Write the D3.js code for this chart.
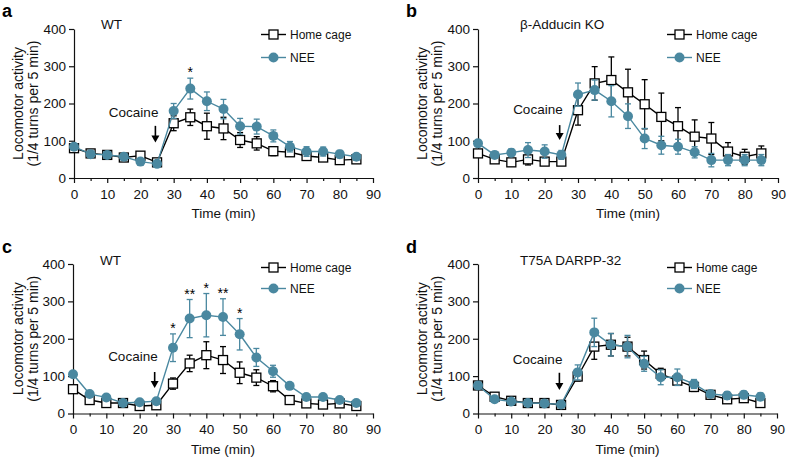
<!DOCTYPE html>
<html><head><meta charset="utf-8">
<script src="https://cdn.jsdelivr.net/npm/d3@7"></script>
<style>
body{margin:0;background:#fff;}
svg{font-family:"Liberation Sans",Arial,Helvetica,sans-serif;}
</style></head>
<body><svg id="c" width="788" height="458"></svg>
<script>
const times = [0,5,10,15,20,25,30,35,40,45,50,55,60,65,70,75,80,85];
const xTicks = [0,10,20,30,40,50,60,70,80,90];
const xMinor = [5,15,25,35,45,55,65,75,85];
const yTicks = [0,100,200,300,400];
const seriesNames = ["Home cage","NEE"];
const panelLetters = ["a","b","c","d"];
const panelTitles = ["WT","β-Adducin KO","WT","T75A DARPP-32"];

const homeA    = [80,66,62,55,60,42,147,163,139,133,102,93,72,69,59,55,48,50];
const homeAErr = [6,6,6,6,6,5,20,22,35,30,20,18,12,10,8,8,6,6];
const neeA     = [84,64,62,57,44,38,180,240,206,185,139,138,113,84,71,71,64,57];
const neeAErr  = [5,5,5,5,5,5,20,28,25,26,21,20,16,14,13,12,10,8];
const starsA   = ["","","","","","","","*","","","","","","","","","",""];

const homeB    = [66,50,42,50,44,44,182,254,263,230,198,164,139,111,106,71,57,66];
const homeBErr = [10,8,10,15,10,10,40,45,62,62,66,64,50,45,43,24,20,20];
const neeB     = [93,62,68,75,71,62,224,236,206,166,106,88,84,69,48,48,48,48];
const neeBErr  = [8,6,10,20,18,12,31,27,42,33,27,24,20,15,18,15,15,15];
const starsB   = times.map(() => "");

const homeC    = [65,36,28,28,20,22,80,134,156,143,109,96,73,36,27,24,27,20];
const homeCErr = [5,5,5,5,5,5,15,22,36,36,29,21,15,5,5,5,5,5];
const neeC     = [105,52,43,28,30,33,176,254,263,258,212,150,113,74,44,44,36,28];
const neeCErr  = [5,5,5,5,5,5,37,51,58,49,42,24,16,8,6,5,5,5];
const starsC   = ["","","","","","","*","**","*","**","*","","","","","","",""];

const homeD    = [75,45,34,28,28,23,99,179,184,179,143,106,88,71,50,38,41,28];
const homeDErr = [5,5,5,5,5,5,12,34,30,25,24,15,12,12,6,6,6,5];
const neeD     = [75,38,32,28,27,24,110,217,184,179,133,97,97,79,52,48,50,45];
const neeDErr  = [5,5,5,5,5,5,20,38,30,30,20,20,22,12,8,10,10,10];
const starsD   = times.map(() => "");

const cocaineArrow = [[140,95],[142,102],[111,68],[109,63]]; // arrow top/bottom values per panel
const cocaineText = [177,185,152,145];

const panelData = [
  {home:homeA, homeErr:homeAErr, nee:neeA, neeErr:neeAErr, stars:starsA},
  {home:homeB, homeErr:homeBErr, nee:neeB, neeErr:neeBErr, stars:starsB},
  {home:homeC, homeErr:homeCErr, nee:neeC, neeErr:neeCErr, stars:starsC},
  {home:homeD, homeErr:homeDErr, nee:neeD, neeErr:neeDErr, stars:starsD}
];

const layout = [
  {x0:74, x1:373, y0:178, y1:29, ox:0, oy:0},
  {x0:478, x1:778, y0:178, y1:29, ox:404, oy:0},
  {x0:73, x1:373, y0:413.5, y1:264, ox:0, oy:236},
  {x0:478, x1:777, y0:413.5, y1:264, ox:404, oy:236}
];

const TEAL = "#4a88a0";
const svg = d3.select("#c");

panelData.forEach((pd, i) => {
  const L = layout[i];
  const x = d3.scaleLinear().domain([0,90]).range([L.x0, L.x1]);
  const y = d3.scaleLinear().domain([0,400]).range([L.y0, L.y1]);
  const g = svg.append("g");

  // axes
  g.append("g").attr("transform",`translate(0,${L.y0})`)
    .call(d3.axisBottom(x).tickValues(xTicks).tickSize(5).tickSizeOuter(0).tickPadding(6));
  g.append("g").attr("transform",`translate(0,${L.y0})`)
    .call(d3.axisBottom(x).tickValues(xMinor).tickSize(3).tickSizeOuter(0).tickFormat(""))
    .select(".domain").remove();
  g.append("g").attr("transform",`translate(${L.x0},0)`)
    .call(d3.axisLeft(y).tickValues(yTicks).tickSize(5).tickSizeOuter(0).tickPadding(3));
  g.selectAll(".tick text").attr("font-size",13.5).attr("fill","#111")
    .attr("font-family","Liberation Sans, Arial, sans-serif");
  g.selectAll(".domain, .tick line").attr("stroke","#111").attr("stroke-width",1.2);

  // axis titles
  g.append("text").attr("x",(L.x0+L.x1)/2).attr("y",L.y0+40).attr("text-anchor","middle")
    .attr("font-size",13.5).attr("fill","#111").text("Time (min)");
  const ymid = (L.y0+L.y1)/2;
  g.append("text").attr("transform",`translate(${L.ox+23},${ymid}) rotate(-90)`)
    .attr("text-anchor","middle").attr("font-size",14).attr("fill","#111").text("Locomotor activity");
  g.append("text").attr("transform",`translate(${L.ox+38},${ymid}) rotate(-90)`)
    .attr("text-anchor","middle").attr("font-size",14).attr("fill","#111").text("(1/4 turns per 5 min)");

  // panel letter and title
  g.append("text").attr("x",L.ox+2).attr("y",L.oy+17).attr("font-size",18)
    .attr("font-weight","bold").text(panelLetters[i]);
  g.append("text").attr("x", i%2===0 ? L.x0+27 : L.x0+42).attr("y",L.oy+29)
    .attr("font-size",13.5).attr("fill","#111").text(panelTitles[i]);

  // cocaine annotation
  const ax = x(24.5);
  const [aTop, aBot] = cocaineArrow[i];
  g.append("line").attr("x1",ax).attr("x2",ax).attr("y1",y(aTop)).attr("y2",y(aBot)-6)
    .attr("stroke","#000").attr("stroke-width",1.6);
  g.append("path").attr("d",`M${ax-4},${y(aBot)-7} L${ax+4},${y(aBot)-7} L${ax},${y(aBot)} Z`).attr("fill","#000");
  g.append("text").attr("x",ax+3).attr("y",y(cocaineText[i])).attr("dy","0.35em")
    .attr("text-anchor","end").attr("font-size",13.5).attr("fill","#111").text("Cocaine");

  const line = d3.line().x((d,j)=>x(times[j])).y(d=>y(d));

  function drawSeries(vals, errs, color, marker) {
    const s = g.append("g");
    vals.forEach((v,j) => {
      const cx = x(times[j]);
      const e = errs[j];
      s.append("line").attr("x1",cx).attr("x2",cx).attr("y1",y(v-e)).attr("y2",y(v+e))
        .attr("stroke",color).attr("stroke-width",1.3);
      [v-e, v+e].forEach(w => s.append("line").attr("x1",cx-3).attr("x2",cx+3)
        .attr("y1",y(w)).attr("y2",y(w)).attr("stroke",color).attr("stroke-width",1.3));
    });
    s.append("path").attr("d",line(vals)).attr("fill","none").attr("stroke",color).attr("stroke-width",1.4);
    vals.forEach((v,j) => {
      const cx = x(times[j]), cy = y(v);
      if (marker === "square") {
        s.append("rect").attr("x",cx-4.5).attr("y",cy-4.5).attr("width",9).attr("height",9)
          .attr("fill","#fff").attr("stroke","#000").attr("stroke-width",1.3);
      } else {
        s.append("circle").attr("cx",cx).attr("cy",cy).attr("r",5).attr("fill",color);
      }
    });
  }
  drawSeries(pd.home, pd.homeErr, "#000", "square");
  drawSeries(pd.nee, pd.neeErr, TEAL, "circle");

  // stars
  pd.stars.forEach((s,j) => {
    if (!s) return;
    const top = Math.max(pd.home[j]+pd.homeErr[j], pd.nee[j]+pd.neeErr[j]);
    g.append("text").attr("x",x(times[j])).attr("y",y(top)-1).attr("text-anchor","middle")
      .attr("font-size",14).text(s);
  });

  // legend
  const lx = i%2===0 ? L.ox+261 : L.ox+263;
  const ly1 = L.oy + (i<2 ? 34.5 : 31.5);
  const ly2 = L.oy + (i<2 ? 57.5 : 52.5);
  [[ly1,"#000","square",seriesNames[0]],[ly2,TEAL,"circle",seriesNames[1]]].forEach(([ly,col,m,name]) => {
    g.append("line").attr("x1",lx).attr("x2",lx+25).attr("y1",ly).attr("y2",ly)
      .attr("stroke",col).attr("stroke-width",1.4);
    if (m==="square") g.append("rect").attr("x",lx+8).attr("y",ly-4.5).attr("width",9).attr("height",9)
      .attr("fill","#fff").attr("stroke","#000").attr("stroke-width",1.3);
    else g.append("circle").attr("cx",lx+12.5).attr("cy",ly).attr("r",5).attr("fill",col);
    g.append("text").attr("x",lx+29).attr("y",ly).attr("dy","0.35em").attr("font-size",12)
      .attr("fill","#111").text(name);
  });
});
</script></body></html>
